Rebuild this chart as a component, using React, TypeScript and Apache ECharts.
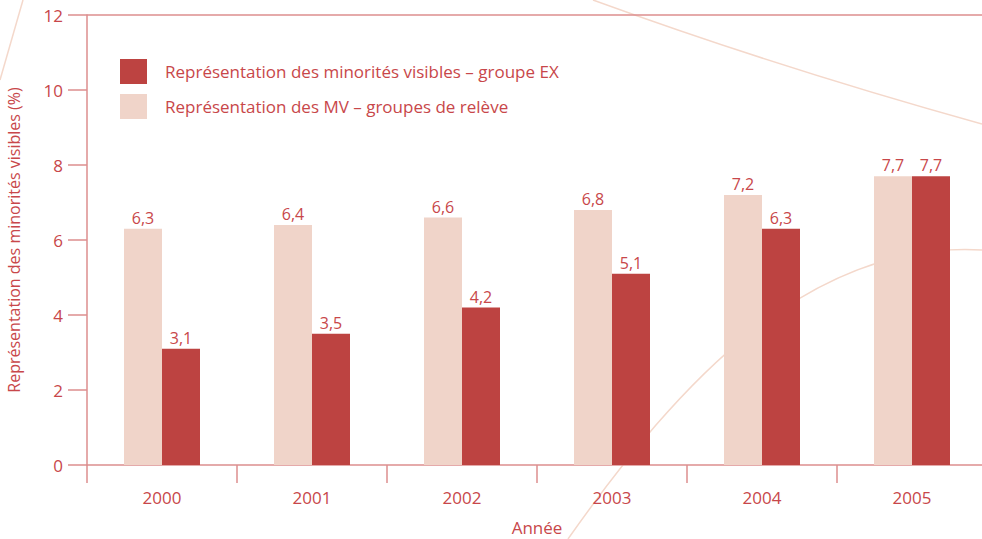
import React, { useEffect, useRef } from "react";
import * as echarts from "echarts";

const categories = ["2000", "2001", "2002", "2003", "2004", "2005"];
const releveValues = [6.3, 6.4, 6.6, 6.8, 7.2, 7.7];
const exValues = [3.1, 3.5, 4.2, 5.1, 6.3, 7.7];
const nameEX = "Représentation des minorités visibles – groupe EX";
const nameReleve = "Représentation des MV – groupes de relève";
const yAxisName = "Représentation des minorités visibles (%)";
const xAxisName = "Année";

const TEXT = "#C8474A";
const AXIS = "#DC8E8E";
const DARK = "#BD4341";
const PALE = "#F0D4C9";
const CURVE = "#F4D8CB";
const FONT = "'Open Sans', sans-serif";

export default function App() {
  const ref = useRef<HTMLDivElement>(null);
  useEffect(() => {
    if (!ref.current) return;
    const chart = echarts.init(ref.current, undefined, { renderer: "svg" });
    const fmt = (p: any) => String(p.value).replace(".", ",");
    chart.setOption({
      animation: false,
      textStyle: { fontFamily: FONT },
      grid: {
        left: 87,
        right: -5,
        top: 15,
        bottom: 74,
        containLabel: false,
        outerBoundsMode: "none",
      },
      legend: {
        orient: "vertical",
        left: 115,
        top: 54,
        itemWidth: 27,
        itemHeight: 25,
        itemGap: 10,
        icon: "rect",
        data: [nameEX, nameReleve],
        textStyle: { color: TEXT, fontSize: 17, fontFamily: FONT, padding: [0, 0, 0, 13] },
      },
      graphic: [
        {
          type: "bezierCurve",
          z: 0,
          silent: true,
          shape: { x1: 593, y1: 0, x2: 982, y2: 124, cpx1: 780, cpy1: 68 },
          style: { stroke: CURVE, lineWidth: 1.5, fill: "none" },
        },
        {
          type: "bezierCurve",
          z: 0,
          silent: true,
          shape: { x1: 568, y1: 539, x2: 982, y2: 250, cpx1: 680, cpy1: 380, cpx2: 810, cpy2: 240 },
          style: { stroke: CURVE, lineWidth: 1.5, fill: "none" },
        },
        {
          type: "line",
          z: 0,
          silent: true,
          shape: { x1: 23, y1: 0, x2: 0, y2: 80 },
          style: { stroke: CURVE, lineWidth: 1.5 },
        },
      ],
      xAxis: {
        type: "category",
        data: categories,
        name: xAxisName,
        nameLocation: "middle",
        nameGap: 54,
        nameTextStyle: { color: TEXT, fontSize: 17, fontFamily: FONT },
        axisLine: { show: true, lineStyle: { color: AXIS, width: 1.5 } },
        axisTick: { show: true, length: 18, lineStyle: { color: AXIS, width: 1.5 } },
        axisLabel: { color: TEXT, fontSize: 17, margin: 24, fontFamily: FONT },
        splitLine: { show: false },
      },
      yAxis: {
        type: "value",
        min: 0,
        max: 12,
        interval: 2,
        name: yAxisName,
        nameLocation: "middle",
        nameGap: 65,
        nameTextStyle: { color: TEXT, fontSize: 16, fontFamily: FONT },
        axisLine: { show: true, lineStyle: { color: AXIS, width: 1.5 } },
        axisTick: { show: true, length: 19, lineStyle: { color: AXIS, width: 1.5 } },
        axisLabel: { color: TEXT, fontSize: 17, margin: 24, fontFamily: FONT },
        splitLine: {
          show: true,
          lineStyle: {
            color: ["transparent", "transparent", "transparent", "transparent", "transparent", "transparent", AXIS],
            width: 1.5,
          },
        },
      },
      series: [
        {
          name: nameReleve,
          type: "bar",
          data: releveValues,
          barWidth: 38,
          barGap: "0%",
          itemStyle: { color: PALE },
          label: { show: true, position: "top", distance: 3, color: TEXT, fontSize: 16, fontFamily: FONT, formatter: fmt },
          z: 3,
        },
        {
          name: nameEX,
          type: "bar",
          data: exValues,
          barWidth: 38,
          barGap: "0%",
          itemStyle: { color: DARK },
          label: { show: true, position: "top", distance: 3, color: TEXT, fontSize: 16, fontFamily: FONT, formatter: fmt },
          z: 3,
        },
      ],
    });
    return () => chart.dispose();
  }, []);
  return (
    <div
      ref={ref}
      style={{ position: "absolute", left: 0, top: 0, width: 982, height: 539, background: "#fff" }}
    />
  );
}
